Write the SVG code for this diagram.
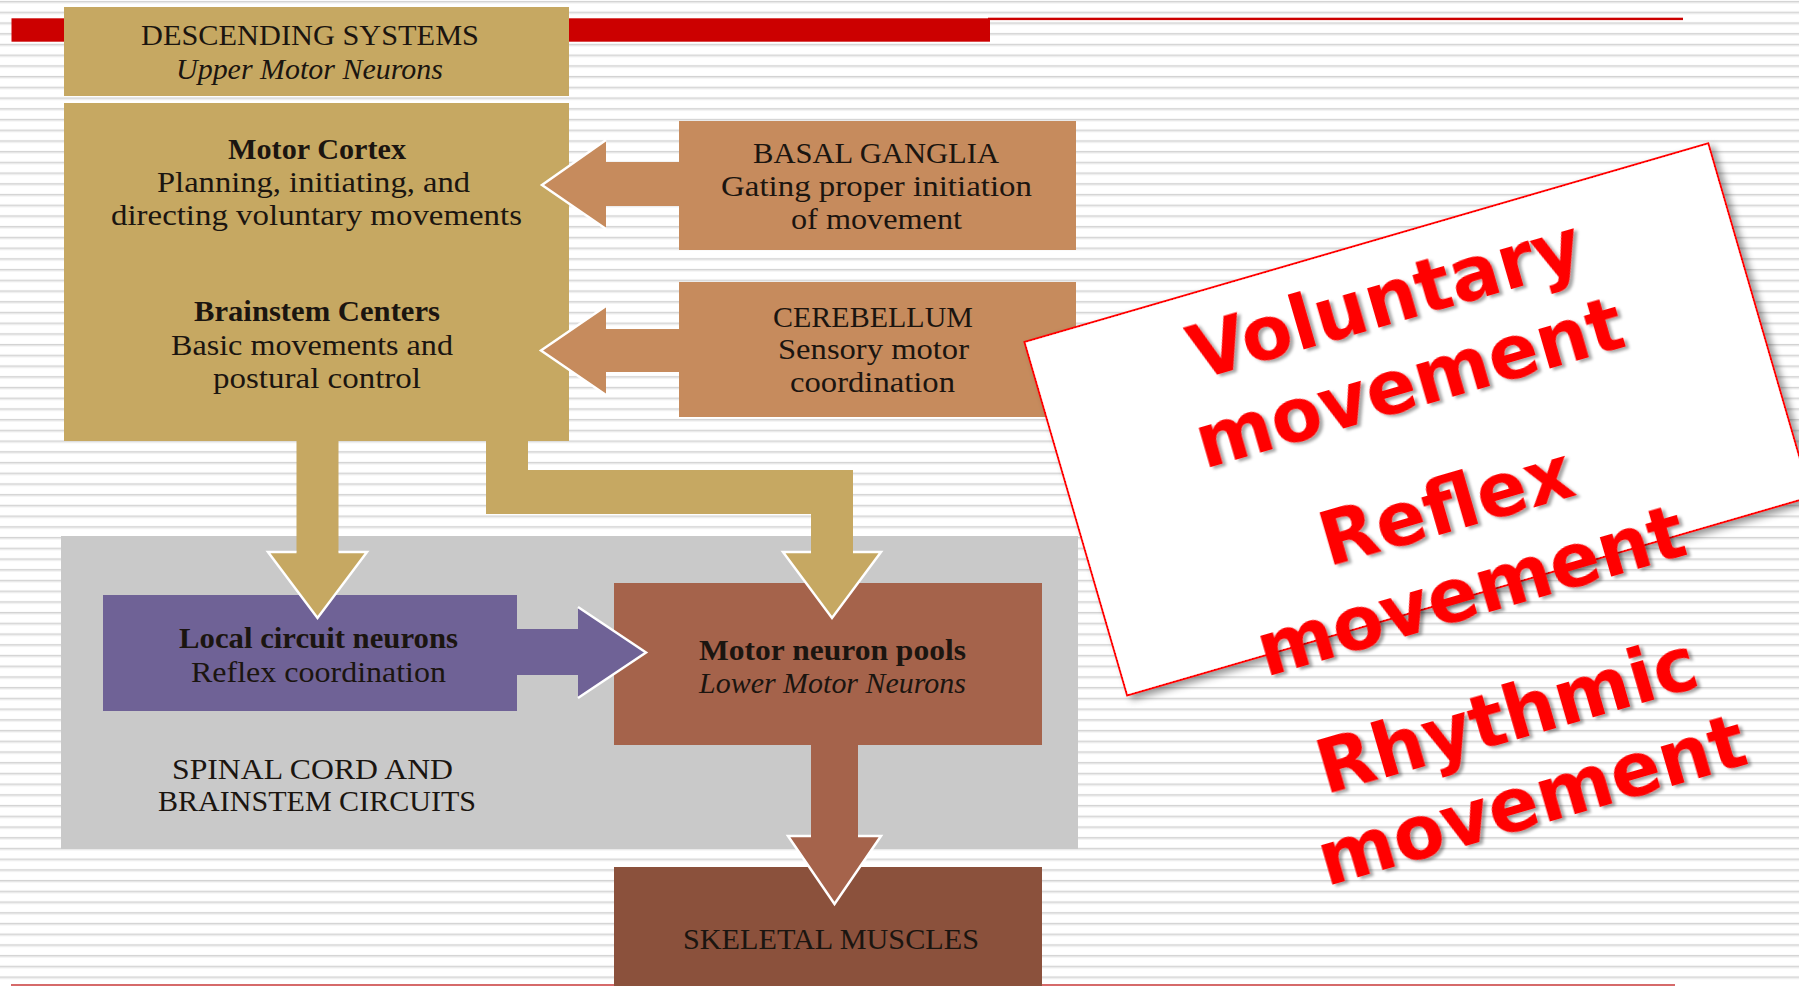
<svg xmlns="http://www.w3.org/2000/svg" width="1799" height="986" viewBox="0 0 1799 986">
<defs>
<pattern id="stripes" width="40" height="10.72" patternUnits="userSpaceOnUse">
<rect x="0" y="0.9" width="40" height="1.1" fill="#d3d3d3"/>
<rect x="0" y="2" width="40" height="1.3" fill="#e6e6e6"/>
</pattern>
<filter id="cardShadow" x="-10%" y="-10%" width="130%" height="130%">
<feDropShadow dx="4" dy="5" stdDeviation="3.5" flood-color="#000" flood-opacity="0.4"/>
</filter>
<filter id="textShadow" x="-10%" y="-20%" width="130%" height="150%">
<feDropShadow dx="3" dy="3" stdDeviation="1.6" flood-color="#000" flood-opacity="0.35"/>
</filter>
<style>
.t{font-family:"Liberation Serif","Times New Roman",serif;font-size:29px;fill:#1b1510;text-anchor:middle}
.b{font-weight:bold}
.i{font-style:italic}
.outline{fill:none;stroke:#ffffff;stroke-width:2.5;stroke-linejoin:miter}
.big{font-family:"DejaVu Sans",Verdana,sans-serif;font-weight:bold;font-size:74px;fill:#ff0000;text-anchor:middle}
</style>
</defs>

<rect x="0" y="0" width="1799" height="986" fill="#ffffff"/>
<rect x="0" y="0" width="1799" height="986" fill="url(#stripes)"/>

<g id="slide-decor">
<rect x="11.5" y="18.3" width="978.5" height="23.4" fill="#cc0000"/>
<rect x="988" y="17.7" width="695" height="2.4" fill="#cc0000"/>
<rect x="11" y="984" width="1664" height="2" fill="#d66a6a"/>
</g>

<g id="spinal-cord-circuits">
<rect x="61" y="536" width="1017" height="313" fill="#c9c9c9"/>
<text class="t" x="312.5" y="779" textLength="281" lengthAdjust="spacingAndGlyphs">SPINAL CORD AND</text>
<text class="t" x="317" y="811" textLength="318" lengthAdjust="spacingAndGlyphs">BRAINSTEM CIRCUITS</text>
</g>

<g id="descending-header">
<rect x="64" y="7" width="505" height="89" fill="#c6a862"/>
<text class="t" x="310" y="45" textLength="338" lengthAdjust="spacingAndGlyphs">DESCENDING SYSTEMS</text>
<text class="t i" x="309.5" y="79" textLength="267" lengthAdjust="spacingAndGlyphs">Upper Motor Neurons</text>
</g>

<g id="descending-systems">
<rect x="64" y="103" width="505" height="338" fill="#c6a862"/>
<text class="t b" x="317" y="159" textLength="178" lengthAdjust="spacingAndGlyphs">Motor Cortex</text>
<text class="t" x="313.5" y="192" textLength="313" lengthAdjust="spacingAndGlyphs">Planning, initiating, and</text>
<text class="t" x="316.5" y="225" textLength="411" lengthAdjust="spacingAndGlyphs">directing voluntary movements</text>
<text class="t b" x="317" y="321" textLength="246" lengthAdjust="spacingAndGlyphs">Brainstem Centers</text>
<text class="t" x="312" y="355" textLength="282" lengthAdjust="spacingAndGlyphs">Basic movements and</text>
<text class="t" x="317" y="388" textLength="208" lengthAdjust="spacingAndGlyphs">postural control</text>
</g>

<g id="basal-ganglia">
<rect x="679" y="121" width="397" height="129" fill="#c68b5d"/>
<text class="t" x="876" y="163" textLength="246" lengthAdjust="spacingAndGlyphs">BASAL GANGLIA</text>
<text class="t" x="876.5" y="196" textLength="311" lengthAdjust="spacingAndGlyphs">Gating proper initiation</text>
<text class="t" x="876.5" y="229" textLength="171" lengthAdjust="spacingAndGlyphs">of movement</text>
</g>

<g id="cerebellum">
<rect x="679" y="282" width="397" height="135" fill="#c68b5d"/>
<text class="t" x="873" y="327" textLength="200" lengthAdjust="spacingAndGlyphs">CEREBELLUM</text>
<text class="t" x="873.5" y="359" textLength="191" lengthAdjust="spacingAndGlyphs">Sensory motor</text>
<text class="t" x="872.5" y="392" textLength="165" lengthAdjust="spacingAndGlyphs">coordination</text>
</g>

<g id="local-circuit-neurons">
<rect x="103" y="595" width="414" height="116" fill="#6f6296"/>
<text class="t b" x="318.5" y="648" textLength="279" lengthAdjust="spacingAndGlyphs">Local circuit neurons</text>
<text class="t" x="318.5" y="682" textLength="255" lengthAdjust="spacingAndGlyphs">Reflex coordination</text>
</g>

<g id="motor-neuron-pools">
<rect x="614" y="583" width="428" height="162" fill="#a5634b"/>
<text class="t b" x="832.5" y="660" textLength="267" lengthAdjust="spacingAndGlyphs">Motor neuron pools</text>
<text class="t i" x="832.5" y="693" textLength="267" lengthAdjust="spacingAndGlyphs">Lower Motor Neurons</text>
</g>

<g id="skeletal-muscles">
<rect x="614" y="867" width="428" height="125" fill="#8b513c"/>
<text class="t" x="831" y="949" textLength="296" lengthAdjust="spacingAndGlyphs">SKELETAL MUSCLES</text>
</g>

<g id="connectors">
<polygon points="679,162 606,162 606,140 542,185 606,229 606,206 679,206" fill="#c68b5d"/>
<polyline class="outline" points="606,140 542,185 606,229"/>
<polygon points="679,329 606,329 606,306 541,350.5 606,395 606,372 679,372" fill="#c68b5d"/>
<polyline class="outline" points="606,306 541,350.5 606,395"/>
<polygon points="296.5,441 338.5,441 338.5,552 367,552 317.5,618 268,552 296.5,552" fill="#c6a862"/>
<polyline class="outline" points="338.5,552 367,552 317.5,618 268,552 296.5,552"/>
<polygon points="486,441 528,441 528,470 853,470 853,552 881,552 832,618 783,552 811,552 811,514 486,514" fill="#c6a862"/>
<polyline class="outline" points="853,552 881,552 832,618 783,552 811,552"/>
<polygon points="517,629 578,629 578,607 646,652.5 578,698 578,675 517,675" fill="#6f6296"/>
<polyline class="outline" points="578,607 646,652.5 578,698"/>
<polygon points="811,745 858,745 858,836 881,836 834.5,904 788,836 811,836" fill="#a5634b"/>
<polyline class="outline" points="858,836 881,836 834.5,904 788,836 811,836"/>
</g>

<g id="movement-types-card" transform="translate(1024.5,342) rotate(-16.2)">
<rect x="0" y="0" width="712" height="368" fill="#ffffff" stroke="#ff0000" stroke-width="2" filter="url(#cardShadow)"/>
<g filter="url(#textShadow)">
<text class="big" x="358" y="85">Voluntary</text>
<text class="big" x="358" y="172">movement</text>
<text class="big" x="359" y="301">Reflex</text>
<text class="big" x="359" y="389">movement</text>
<text class="big" x="359" y="519">Rhythmic</text>
<text class="big" x="359" y="607">movement</text>
</g>
</g>
</svg>
